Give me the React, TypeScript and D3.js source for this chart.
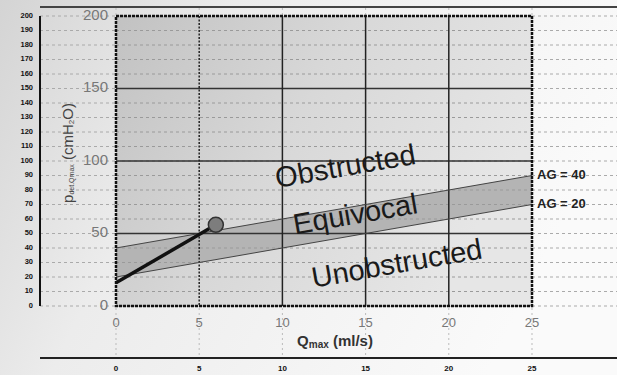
import * as d3 from 'd3';

// chart values
const xTicks = [0, 5, 10, 15, 20, 25];
const yTicks = [0, 50, 100, 150, 200];
const outerYTicks = d3.range(0, 201, 10);
const agLines = [
  { label: 'AG = 40', intercept: 40, slope: 2 },
  { label: 'AG = 20', intercept: 20, slope: 2 },
];
const patientLine = [
  { q: 0, p: 16 },
  { q: 6, p: 56 },
];
const zoneLabels = [
  { text: 'Obstructed', q: 13.8, p: 95 },
  { text: 'Equivocal', q: 14.4, p: 62 },
  { text: 'Unobstructed', q: 16.9, p: 28 },
];

const W = 617;
const H = 375;

export default function App() {
  const x = d3.scaleLinear().domain([0, 25]).range([116, 532]);
  const y = d3.scaleLinear().domain([0, 200]).range([306, 16]);
  const font = 'Arial, "Liberation Sans", sans-serif';
  const angle = (Math.atan2(y(0) - y(2), x(1) - x(0)) * 180) / Math.PI;

  const band = d3
    .area<number>()
    .x((q) => x(q))
    .y0((q) => y(agLines[1].intercept + agLines[1].slope * q))
    .y1((q) => y(agLines[0].intercept + agLines[0].slope * q));
  const line = d3
    .line<{ q: number; p: number }>()
    .x((d) => x(d.q))
    .y((d) => y(d.p));

  return (
    <svg
      width={W}
      height={H}
      style={{ position: 'absolute', left: 0, top: 0, display: 'block' }}
      fontFamily={font}
    >
      <defs>
        <linearGradient id="bg" x1="0" y1="0" x2="1" y2="0.3">
          <stop offset="0" stopColor="#d4d4d4" />
          <stop offset="0.35" stopColor="#ececec" />
          <stop offset="1" stopColor="#fafafa" />
        </linearGradient>
        <linearGradient id="plotBg" x1="0" y1="0" x2="1" y2="0.4">
          <stop offset="0" stopColor="#c2c2c2" />
          <stop offset="0.5" stopColor="#d8d8d8" />
          <stop offset="1" stopColor="#e6e6e6" />
        </linearGradient>
      </defs>
      <rect width={W} height={H} fill="url(#bg)" />

      {/* light dashed grid across the page */}
      {outerYTicks.map((t) => (
        <line key={'g' + t} x1={40} x2={W} y1={y(t)} y2={y(t)} stroke="#aaa" strokeWidth={1} strokeDasharray="3,3" />
      ))}
      {xTicks.map((t) => (
        <line key={'v' + t} x1={x(t)} x2={x(t)} y1={8} y2={358} stroke="#bbb" strokeWidth={1} strokeDasharray="2,3" />
      ))}

      {/* plot area */}
      <rect x={x(0)} y={y(200)} width={x(25) - x(0)} height={y(0) - y(200)} fill="url(#plotBg)" />
      <path d={band([0, 25]) ?? ''} fill="#b4b4b4" />
      {outerYTicks.map((t) => (
        <line key={'pg' + t} x1={x(0)} x2={x(25)} y1={y(t)} y2={y(t)} stroke="#9a9a9a" strokeWidth={1} strokeDasharray="3,3" />
      ))}
      {[50, 100, 150].map((t) => (
        <line key={'h' + t} x1={x(0)} x2={x(25)} y1={y(t)} y2={y(t)} stroke="#333" strokeWidth={1.5} />
      ))}
      {[5, 10, 15, 20].map((t) => (
        <line
          key={'vv' + t}
          x1={x(t)}
          x2={x(t)}
          y1={y(200)}
          y2={y(0)}
          stroke="#222"
          strokeWidth={1.5}
          strokeDasharray={t === 5 ? '2,1.5' : undefined}
        />
      ))}
      {agLines.map((a) => (
        <line
          key={a.label}
          x1={x(0)}
          x2={x(25)}
          y1={y(a.intercept)}
          y2={y(a.intercept + a.slope * 25)}
          stroke="#444"
          strokeWidth={1}
        />
      ))}
      <rect
        x={x(0)}
        y={y(200)}
        width={x(25) - x(0)}
        height={y(0) - y(200)}
        fill="none"
        stroke="#111"
        strokeWidth={2.5}
        strokeDasharray="3,1"
      />

      {zoneLabels.map((z) => (
        <text
          key={z.text}
          x={x(z.q)}
          y={y(z.p)}
          transform={`rotate(${-angle},${x(z.q)},${y(z.p)})`}
          textAnchor="middle"
          dominantBaseline="middle"
          fontSize={29}
          fill="#1a1a1a"
        >
          {z.text}
        </text>
      ))}

      <path d={line(patientLine) ?? ''} fill="none" stroke="#111" strokeWidth={3.5} />
      <circle
        cx={x(patientLine[1].q)}
        cy={y(patientLine[1].p)}
        r={7.5}
        fill="#7d7d7d"
        stroke="#333"
        strokeWidth={1.5}
      />

      {agLines.map((a) => (
        <text
          key={'l' + a.label}
          x={537}
          y={y(a.intercept + a.slope * 25)}
          dominantBaseline="middle"
          fontSize={13}
          fontWeight="bold"
          fill="#222"
        >
          {a.label}
        </text>
      ))}

      {/* inner axis labels */}
      {yTicks.map((t) => (
        <text key={'yt' + t} x={x(0) - 8} y={y(t)} textAnchor="end" dominantBaseline="middle" fontSize={15} fill="#777">
          {t}
        </text>
      ))}
      {xTicks.map((t) => (
        <text key={'xt' + t} x={x(t)} y={324} textAnchor="middle" dominantBaseline="middle" fontSize={13} fill="#777">
          {t}
        </text>
      ))}
      <text x={335} y={342} textAnchor="middle" dominantBaseline="middle" fontSize={15} fontWeight="bold" fill="#333">
        Q<tspan fontSize={10} dy={3}>max</tspan>
        <tspan dy={-3}> (ml/s)</tspan>
      </text>
      <text
        transform="translate(69,153) rotate(-90)"
        textAnchor="middle"
        dominantBaseline="middle"
        fontSize={15}
        fill="#444"
      >
        p<tspan fontSize={7} dy={3}>det.Qmax</tspan>
        <tspan dy={-3}> (cmH</tspan>
        <tspan fontSize={8} dy={3}>2</tspan>
        <tspan dy={-3}>O)</tspan>
      </text>

      {/* outer axes */}
      <line x1={40} x2={W} y1={7} y2={7} stroke="#444" strokeWidth={2} />
      <line x1={40} x2={40} y1={y(200)} y2={y(0)} stroke="#111" strokeWidth={2} />
      {outerYTicks.map((t) => (
        <text key={'oy' + t} x={33} y={y(t)} textAnchor="end" dominantBaseline="middle" fontSize={7.5} fontWeight="bold" fill="#111">
          {t}
        </text>
      ))}
      <line x1={40} x2={W} y1={358} y2={358} stroke="#222" strokeWidth={2} />
      {xTicks.map((t) => (
        <text key={'ox' + t} x={x(t)} y={369} textAnchor="middle" dominantBaseline="middle" fontSize={8} fontWeight="bold" fill="#111">
          {t}
        </text>
      ))}
    </svg>
  );
}
